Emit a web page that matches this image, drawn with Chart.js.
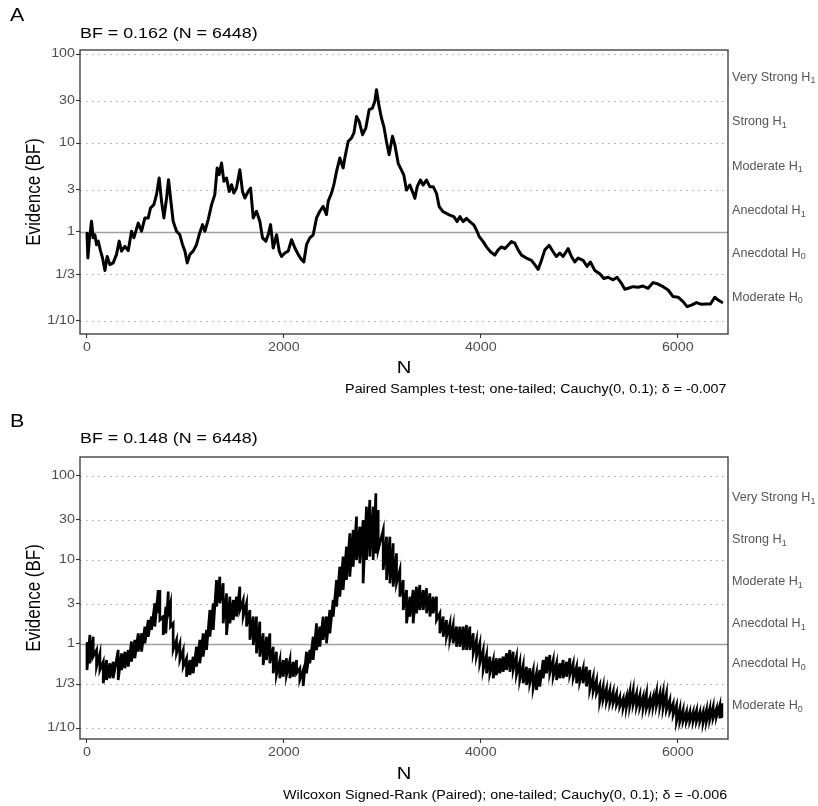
<!DOCTYPE html>
<html>
<head>
<meta charset="utf-8">
<script src="https://cdn.jsdelivr.net/npm/chart.js@4.4.1/dist/chart.umd.min.js"></script>
<style>
  body { margin: 0; background: #fff; width: 818px; height: 806px; position: relative; overflow: hidden;
         font-family: "Liberation Sans", Arial, sans-serif; color: #000; }
  canvas { position: absolute; left: 0; }
  .t { position: absolute; white-space: nowrap; line-height: 1; }
  .l { transform: scaleX(1.19); transform-origin: left center; }
  .r { transform: scaleX(1.19); transform-origin: right center; }
  .c { transform: translate(-50%, -50%) scaleX(1.19); }
  .v { transform: translate(-50%, -50%) scaleX(1.19) rotate(-90deg); }
</style>
</head>
<body>
<canvas id="chartA" width="818" height="403" style="top:0"></canvas>
<canvas id="chartB" width="818" height="403" style="top:403px"></canvas>

<div class="t l" style="left:10px;top:6px;font-size:18px">A</div>
<div class="t l" style="left:80px;top:25px;font-size:15px">BF = 0.162 (N = 6448)</div>
<div class="t v" style="left:33px;top:192px;font-size:17px">Evidence (BF)</div>
<div class="t c" style="left:404px;top:367px;font-size:17px">N</div>
<div class="t r" style="right:91px;top:383px;font-size:12px">Paired Samples t-test; one-tailed; Cauchy(0, 0.1); δ = -0.007</div>

<div class="t l" style="left:10px;top:412px;font-size:18px">B</div>
<div class="t l" style="left:80px;top:430px;font-size:15px">BF = 0.148 (N = 6448)</div>
<div class="t v" style="left:33px;top:598px;font-size:17px">Evidence (BF)</div>
<div class="t c" style="left:404px;top:773px;font-size:17px">N</div>
<div class="t r" style="right:91px;top:789px;font-size:12px">Wilcoxon Signed-Rank (Paired); one-tailed; Cauchy(0, 0.1); δ = -0.006</div>

<script>
// axis ticks
const xTicks = [0, 2000, 4000, 6000];
const yTicks = [0.1, 1 / 3, 1, 3, 10, 30, 100];
const yTickLabels = ["1/10", "1/3", "1", "3", "10", "30", "100"];

// evidence categories on the right, placed between the grid lines
const evidenceAt = [54.8, 17.3, 5.48, 1.73, 0.577, 0.183];
const evidenceLabels = ["Very Strong H", "Strong H", "Moderate H", "Anecdotal H", "Anecdotal H", "Moderate H"];
const evidenceSubs = ["1", "1", "1", "1", "0", "0"];

// panel A: paired t-test sequential BF
const aN = [1, 10, 24, 47, 64, 81, 98, 115, 139, 159,
  183, 206, 233, 267, 301, 328, 352, 386, 420, 453,
  477, 521, 555, 589, 623, 646, 680, 707, 734, 758,
  782, 809, 829, 849, 876, 910, 944, 971, 995, 1019,
  1046, 1079, 1113, 1140, 1174, 1198, 1232, 1266, 1299, 1323,
  1343, 1367, 1391, 1418, 1445, 1469, 1492, 1519, 1553, 1580,
  1604, 1638, 1662, 1689, 1722, 1756, 1783, 1817, 1841, 1865,
  1892, 1926, 1953, 1976, 2010, 2044, 2078, 2112, 2145, 2179,
  2203, 2230, 2264, 2298, 2332, 2365, 2399, 2433, 2450, 2484,
  2508, 2535, 2568, 2602, 2619, 2653, 2687, 2711, 2738, 2765,
  2799, 2832, 2866, 2900, 2924, 2941, 2964, 2991, 3015, 3042,
  3069, 3103, 3127,
  3161, 3194, 3218, 3245, 3279, 3313, 3330, 3354, 3387, 3414,
  3448, 3482, 3516, 3550, 3577, 3618, 3651, 3685, 3726, 3760,
  3787, 3821, 3854, 3888, 3929, 3956, 3983, 4024, 4057, 4098,
  4142, 4176, 4210, 4244, 4277, 4311, 4345, 4379, 4413, 4463,
  4514, 4548, 4582, 4616, 4650, 4694, 4734, 4768, 4802, 4836,
  4887, 4920, 4954, 4988, 5039, 5079, 5113, 5157, 5208, 5249,
  5293, 5343, 5384, 5428, 5462, 5496, 5546, 5597, 5648, 5699,
  5749, 5800, 5851, 5902, 5952, 6003, 6054, 6095, 6139, 6190,
  6240, 6291, 6332, 6376, 6409, 6448];
const aBF = [0.97, 0.51, 0.79, 1.32, 0.86, 0.93, 0.72, 0.79, 0.61, 0.51,
  0.37, 0.53, 0.43, 0.45, 0.56, 0.79, 0.61, 0.69, 0.62, 1.02,
  0.86, 1.26, 1.02, 1.44, 1.44, 1.86, 2.03, 2.63, 4.04, 2.21,
  1.44, 2.41, 3.87, 2.41, 1.32, 1.02, 0.93, 0.72, 0.61, 0.45,
  0.56, 0.61, 0.72, 0.93, 1.21, 1.02, 1.38, 2.03, 2.63, 5.24,
  4.41, 5.96, 3.71, 4.04, 2.86, 3.40, 2.74, 3.12, 5.01, 2.86,
  2.41, 2.86, 3.12, 1.44, 1.71, 1.32, 0.86, 0.79, 0.93, 1.21,
  0.66, 0.93, 0.61, 0.53, 0.58, 0.61, 0.82, 0.66, 0.56, 0.49,
  0.46, 0.72, 0.86, 0.93, 1.44, 1.71, 1.94, 1.57, 2.21, 2.74,
  3.40, 4.80, 6.78, 5.24, 6.78, 10.4, 11.4, 12.9, 19.9, 17.5,
  12.4, 14.7, 23.7, 24.7, 29.4, 39.7, 27.0, 19.1, 15.4, 10.4,
  7.39, 11.9, 9.58,
  5.91, 4.97, 4.37, 2.96, 3.37, 2.72, 2.39, 3.23, 3.84, 3.37,
  3.84, 3.23, 3.23, 2.72, 1.93, 1.69, 1.62, 1.55, 1.49, 1.31,
  1.49, 1.31, 1.42, 1.31, 1.20, 1.05, 0.89, 0.78, 0.68, 0.60,
  0.55, 0.63, 0.68, 0.65, 0.71, 0.78, 0.75, 0.63, 0.55, 0.51,
  0.48, 0.43, 0.38, 0.48, 0.63, 0.71, 0.60, 0.53, 0.58, 0.53,
  0.65, 0.53, 0.46, 0.51, 0.48, 0.41, 0.46, 0.37, 0.34, 0.30,
  0.31, 0.29, 0.31, 0.265, 0.227, 0.233, 0.243, 0.239, 0.247, 0.233,
  0.27, 0.26, 0.243, 0.223, 0.188, 0.185, 0.165, 0.145, 0.151, 0.161,
  0.154, 0.155, 0.155, 0.185, 0.172, 0.162];

// panel B: Wilcoxon sequential BF, very noisy -> upper and lower edge of the trace
const bN = [1, 30, 64, 98, 132, 166, 200, 233, 267, 318,
  352, 386, 420, 453, 487, 521, 555, 589, 623, 656,
  690, 724, 741, 775, 802, 826, 849, 876, 910, 944,
  978, 1012, 1046, 1079, 1113, 1147, 1181, 1215, 1249, 1283,
  1316, 1350, 1384, 1418, 1452, 1486, 1519, 1553, 1587, 1621,
  1655, 1689, 1722, 1756, 1790, 1824, 1858, 1892, 1925, 1959,
  1993, 2027, 2061, 2095, 2129, 2162, 2196, 2230, 2264, 2298,
  2332, 2365, 2399, 2433, 2467, 2501, 2535, 2568, 2602, 2636,
  2670, 2704, 2738, 2771, 2805, 2839, 2873, 2907, 2934, 2958,
  3009, 3043, 3077, 3110, 3144, 3178, 3212, 3246, 3280, 3313,
  3347, 3381, 3415, 3449, 3483, 3516, 3550, 3584, 3618, 3652,
  3686, 3719, 3753, 3787, 3821, 3855, 3889, 3923, 3956, 3990,
  4024, 4058, 4092, 4126, 4159, 4193, 4227, 4261, 4295, 4329,
  4362, 4396, 4430, 4464, 4498, 4532, 4565, 4599, 4633, 4667,
  4701, 4735, 4769, 4802, 4836, 4870, 4904, 4938, 4972, 5005,
  5039, 5073, 5107, 5141, 5175, 5208, 5242, 5276, 5310, 5344,
  5378, 5411, 5445, 5479, 5513, 5547, 5581, 5615, 5648, 5682,
  5716, 5750, 5784, 5818, 5851, 5885, 5919, 5953, 5987, 6021,
  6054, 6088, 6122, 6156, 6190, 6224, 6257, 6291, 6325, 6359,
  6393, 6427, 6448];
const bHi = [1.02, 1.28, 1.22, 0.849, 0.774, 0.616, 0.645, 0.589, 0.616, 0.849,
  0.774, 0.811, 0.849, 1.07, 1.12, 1.34, 1.34, 1.61, 1.93, 2.12,
  3.05, 4.39, 4.39, 2.12, 2.78, 4.20, 3.05, 1.76, 1.12, 1.02,
  0.849, 0.675, 0.645, 0.707, 0.929, 1.12, 1.34, 1.47, 2.54, 3.05,
  5.78, 6.33, 5.27, 4.01, 3.66, 3.34, 3.66, 4.81, 3.34, 3.05,
  2.54, 2.12, 2.12, 1.84, 1.34, 1.22, 1.34, 0.929, 0.811, 0.645,
  0.645, 0.675, 0.645, 0.616, 0.645, 0.513, 0.49, 0.811, 0.849, 1.22,
  1.76, 1.61, 2.12, 2.12, 2.54, 3.34, 5.78, 8.33, 10.96, 14.4,
  20.8, 22.8, 32.8, 24.9, 29.9, 43.1, 51.8, 43.1, 62.2, 39.4,
  22.8, 18.9, 18.9, 15.8, 12.0, 7.60, 5.78, 4.39, 3.66, 4.39,
  4.81, 5.04, 4.39, 4.60, 4.01, 3.66, 3.66, 2.32, 2.12, 1.93,
  1.76, 1.68, 1.61, 1.61, 1.61, 1.68, 1.61, 1.34, 1.12, 1.02,
  0.849, 0.739, 0.707, 0.645, 0.675, 0.675, 0.707, 0.774, 0.849, 0.811,
  0.707, 0.616, 0.562, 0.537, 0.513, 0.49, 0.448, 0.49, 0.645, 0.707,
  0.739, 0.645, 0.589, 0.589, 0.645, 0.616, 0.675, 0.589, 0.537, 0.537,
  0.513, 0.537, 0.49, 0.408, 0.373, 0.325, 0.311, 0.297, 0.283, 0.271,
  0.259, 0.236, 0.226, 0.236, 0.271, 0.283, 0.259, 0.247, 0.236, 0.259,
  0.226, 0.236, 0.271, 0.259, 0.271, 0.259, 0.216, 0.197, 0.188, 0.171,
  0.164, 0.156, 0.156, 0.156, 0.161, 0.156, 0.156, 0.164, 0.171, 0.179,
  0.171, 0.188, 0.197];
const bLo = [0.49, 0.589, 0.707, 0.537, 0.49, 0.34, 0.373, 0.39, 0.39, 0.373,
  0.49, 0.513, 0.537, 0.616, 0.675, 0.811, 0.811, 1.02, 1.22, 1.47,
  1.61, 2.32, 1.93, 1.28, 1.34, 2.32, 1.61, 0.849, 0.774, 0.645,
  0.537, 0.408, 0.428, 0.448, 0.537, 0.589, 0.707, 0.849, 1.22, 1.47,
  2.78, 3.05, 1.76, 1.28, 1.76, 1.93, 2.12, 2.54, 2.12, 1.61,
  1.12, 0.973, 0.774, 0.707, 0.562, 0.645, 0.589, 0.448, 0.428, 0.39,
  0.408, 0.428, 0.39, 0.408, 0.448, 0.373, 0.316, 0.448, 0.589, 0.645,
  0.849, 0.929, 1.12, 1.02, 1.34, 2.12, 2.78, 3.66, 4.39, 5.78,
  6.33, 8.33, 10.0, 9.13, 5.27, 10.0, 10.96, 10.0, 12.0, 13.2,
  7.60, 5.78, 5.27, 4.81, 5.27, 3.66, 2.54, 1.76, 2.12, 1.76,
  2.32, 2.54, 2.54, 2.32, 2.12, 2.32, 1.93, 1.34, 1.22, 1.22,
  1.12, 1.02, 0.929, 0.929, 0.849, 0.849, 0.849, 0.774, 0.707, 0.589,
  0.49, 0.448, 0.448, 0.39, 0.428, 0.448, 0.468, 0.49, 0.468, 0.49,
  0.428, 0.373, 0.34, 0.325, 0.34, 0.297, 0.283, 0.311, 0.39, 0.448,
  0.448, 0.408, 0.373, 0.39, 0.39, 0.408, 0.428, 0.39, 0.34, 0.356,
  0.34, 0.311, 0.283, 0.271, 0.259, 0.206, 0.216, 0.206, 0.197, 0.197,
  0.188, 0.179, 0.171, 0.176, 0.183, 0.188, 0.179, 0.176, 0.171, 0.171,
  0.171, 0.179, 0.183, 0.179, 0.171, 0.164, 0.156, 0.143, 0.119, 0.119,
  0.119, 0.119, 0.119, 0.119, 0.119, 0.119, 0.114, 0.119, 0.125, 0.130,
  0.136, 0.130, 0.136];

const FONT = "'Liberation Sans', Arial, sans-serif";
const STRETCH = 1.19; // the reference text is drawn a bit wide
Chart.defaults.font.family = FONT;

function wideText(ctx, text, x, y, sx) {
  ctx.save();
  ctx.translate(x, y);
  ctx.scale(sx, 1);
  ctx.fillText(text, 0, 0);
  ctx.restore();
}

// grid lines, panel frame, tick labels and the evidence labels on the right
const bfDecor = {
  id: "bfDecor",
  beforeDatasetsDraw(chart) {
    const { ctx, chartArea: a, scales: { y } } = chart;
    ctx.save();
    yTicks.forEach(v => {
      const py = Math.round(y.getPixelForValue(v)) + 0.5;
      ctx.beginPath();
      if (v === 1) {
        ctx.setLineDash([]);
        ctx.strokeStyle = "#a0a0a0";
        ctx.lineWidth = 1.3;
      } else {
        ctx.setLineDash([1.5, 4.5]);
        ctx.strokeStyle = "#a8a8a8";
        ctx.lineWidth = 1.2;
      }
      ctx.moveTo(a.left, py);
      ctx.lineTo(a.right, py);
      ctx.stroke();
    });
    ctx.restore();
  },
  afterDraw(chart) {
    const { ctx, chartArea: a, scales: { x, y } } = chart;
    ctx.save();
    ctx.strokeStyle = "#333";
    ctx.lineWidth = 1.3;
    ctx.strokeRect(a.left, a.top, a.right - a.left, a.bottom - a.top);

    // tick labels
    ctx.fillStyle = "#4d4d4d";
    ctx.font = "12px " + FONT;
    ctx.textBaseline = "middle";
    ctx.textAlign = "right";
    yTicks.forEach((v, i) => wideText(ctx, yTickLabels[i], a.left - 5, y.getPixelForValue(v), STRETCH));
    ctx.textAlign = "center";
    xTicks.forEach(v => wideText(ctx, String(v), x.getPixelForValue(v), a.bottom + 14, STRETCH));

    // evidence categories
    ctx.fillStyle = "#555";
    ctx.textAlign = "left";
    evidenceAt.forEach((v, i) => {
      const py = y.getPixelForValue(v);
      const px = a.right + 4;
      ctx.font = "12px " + FONT;
      wideText(ctx, evidenceLabels[i], px, py, 1.05);
      const w = ctx.measureText(evidenceLabels[i]).width * 1.05;
      ctx.font = "8.5px " + FONT;
      wideText(ctx, evidenceSubs[i], px + w, py + 3.5, 1.05);
    });
    ctx.restore();
  }
};

function makePanel(id, datasets, yMin, yMax, padTop, padBottom) {
  return new Chart(document.getElementById(id), {
    type: "line",
    data: { datasets },
    options: {
      responsive: false,
      animation: false,
      layout: { padding: { left: 0, right: 90, top: padTop, bottom: padBottom } },
      plugins: { legend: { display: false }, tooltip: { enabled: false } },
      elements: { point: { radius: 0 }, line: { tension: 0, borderJoinStyle: "round", borderCapStyle: "round" } },
      scales: {
        x: {
          type: "linear",
          bounds: "data",
          min: -70,
          max: 6510,
          afterBuildTicks: s => { s.ticks = xTicks.map(v => ({ value: v })); },
          afterFit: s => { s.height = 20; },
          ticks: { display: false },
          grid: { drawOnChartArea: false, drawTicks: true, tickLength: 4, tickColor: "#333", tickWidth: 1.1 },
          border: { display: false }
        },
        y: {
          type: "logarithmic",
          bounds: "data",
          min: yMin,
          max: yMax,
          afterBuildTicks: s => { s.ticks = yTicks.map(v => ({ value: v })); },
          afterFit: s => { s.width = 80; },
          ticks: { display: false },
          grid: { drawOnChartArea: false, drawTicks: true, tickLength: 4, tickColor: "#333", tickWidth: 1.1 },
          border: { display: false }
        }
      }
    },
    plugins: [bfDecor]
  });
}

makePanel("chartA", [{
  data: aN.map((n, i) => ({ x: n, y: aBF[i] })),
  borderColor: "#000",
  borderWidth: 3
}], 0.0714, 111, 50, 49);

// panel B: the trace jumps between the upper and lower edge at every reading
const pointsB = [];
bN.forEach((n, i) => {
  pointsB.push({ x: n, y: bHi[i] });
  pointsB.push({ x: n, y: bLo[i] });
});
makePanel("chartB", [{
  data: pointsB,
  borderColor: "#000",
  borderWidth: 2.7,
  borderJoinStyle: "miter"
}], 0.074, 168, 54, 47);
</script>
</body>
</html>
